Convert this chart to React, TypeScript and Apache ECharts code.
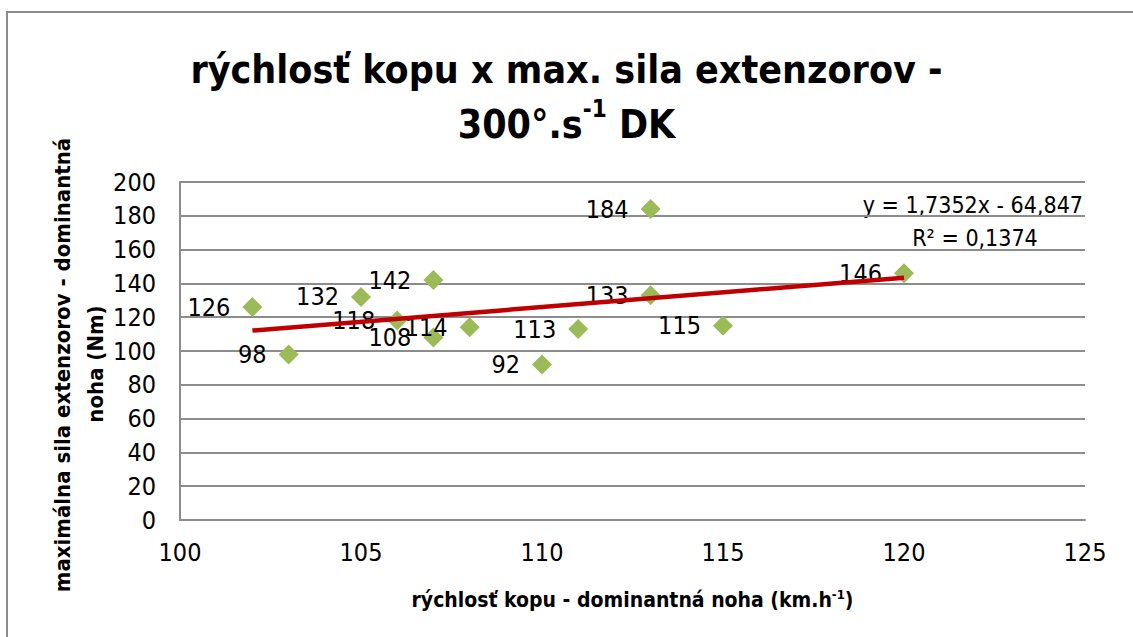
import React, { useEffect, useRef } from "react";
import * as echarts from "echarts";

const speedKmh = [102, 103, 105, 106, 107, 107, 108, 110, 111, 113, 113, 115, 120];
const forceNm = [126, 98, 132, 118, 142, 108, 114, 92, 113, 184, 133, 115, 146];
const trendX = [102, 120];
const trendY = [112.1, 143.4];
const xTicks = { min: 100, max: 125, interval: 5 };
const yTicks = { min: 0, max: 200, interval: 20 };
const equationText = "y = 1,7352x - 64,847";
const r2Text = "R² = 0,1374";

const FONT = "'Liberation Sans Narrow', 'DejaVu Sans Condensed', 'Liberation Sans', sans-serif";

export default function App() {
  const ref = useRef<HTMLDivElement>(null);
  useEffect(() => {
    const chart = echarts.init(ref.current!, null, { renderer: "svg" });
    const points = speedKmh.map((x, i) => [x, forceNm[i]]);
    chart.setOption({
      animation: false,
      backgroundColor: "#fff",
      textStyle: { fontFamily: FONT },
      title: {
        text: "{t|rýchlosť kopu x max. sila extenzorov -}\n{t|300°.s}{s|-1}{t| DK}",
        left: "center",
        top: 37,
        textStyle: {
          rich: {
            t: { fontSize: 39, fontWeight: "bold", color: "#000", fontFamily: FONT, lineHeight: 55 },
            s: { fontSize: 24, fontWeight: "bold", color: "#000", fontFamily: FONT, verticalAlign: "top", lineHeight: 40, padding: [0, 0, 16, 0] },
          },
        },
      },
      grid: { left: 180, right: 48, top: 182, bottom: 117, containLabel: false },
      xAxis: {
        type: "value",
        min: xTicks.min,
        max: xTicks.max,
        interval: xTicks.interval,
        axisLine: { show: true, lineStyle: { color: "#8c8c8c", width: 2 } },
        axisTick: { show: false },
        splitLine: { show: false },
        axisLabel: { fontSize: 25, color: "#000", margin: 20, fontFamily: FONT },
        name: "{b|rýchlosť kopu - dominantná noha (km.h}{s|-1}{b|)}",
        nameLocation: "middle",
        nameGap: 68,
        nameTextStyle: {
          rich: {
            b: { fontSize: 21, fontWeight: "bold", color: "#000", fontFamily: FONT },
            s: { fontSize: 13, fontWeight: "bold", color: "#000", fontFamily: FONT, verticalAlign: "top", padding: [0, 0, 10, 0] },
          },
        },
      },
      yAxis: {
        type: "value",
        min: yTicks.min,
        max: yTicks.max,
        interval: yTicks.interval,
        axisLine: { show: true, lineStyle: { color: "#8c8c8c", width: 2 } },
        axisTick: { show: false },
        splitLine: { show: true, lineStyle: { color: "#8c8c8c", width: 2 } },
        axisLabel: { fontSize: 25, color: "#000", margin: 24, fontFamily: FONT },
      },
      graphic: [
        {
          type: "rect",
          shape: { x: 7, y: 12, width: 1140, height: 640 },
          style: { fill: "none", stroke: "#8c8c8c", lineWidth: 2 },
          silent: true,
        },
        {
          type: "text",
          x: 62,
          y: 365,
          rotation: Math.PI / 2,
          style: {
            text: "maximálna sila extenzorov - dominantná",
            fontSize: 22,
            fontWeight: "bold",
            fill: "#000",
            fontFamily: FONT,
            align: "center",
            verticalAlign: "middle",
          },
        },
        {
          type: "text",
          x: 95,
          y: 364,
          rotation: Math.PI / 2,
          style: {
            text: "noha (Nm)",
            fontSize: 22,
            fontWeight: "bold",
            fill: "#000",
            fontFamily: FONT,
            align: "center",
            verticalAlign: "middle",
          },
        },
        {
          type: "text",
          x: 1083,
          y: 205,
          style: {
            text: equationText,
            fontSize: 23,
            fill: "#000",
            fontFamily: FONT,
            align: "right",
            verticalAlign: "middle",
          },
        },
        {
          type: "text",
          x: 975,
          y: 238,
          style: {
            text: r2Text,
            fontSize: 23,
            fill: "#000",
            fontFamily: FONT,
            align: "center",
            verticalAlign: "middle",
          },
        },
      ],
      series: [
        {
          type: "line",
          data: trendX.map((x, i) => [x, trendY[i]]),
          symbol: "none",
          lineStyle: { color: "#C00000", width: 4.5 },
          z: 3,
        },
        {
          type: "scatter",
          data: points,
          symbol: "diamond",
          symbolSize: 20,
          itemStyle: { color: "#9BBB59", opacity: 1 },
          z: 2,
          label: {
            show: true,
            position: "left",
            distance: 12,
            fontSize: 25,
            color: "#000",
            fontFamily: FONT,
            formatter: (p: any) => String(p.value[1]),
          },
        },
      ],
    });
    return () => chart.dispose();
  }, []);
  return <div ref={ref} style={{ width: 1133, height: 637, position: "absolute", left: 0, top: 0 }} />;
}
